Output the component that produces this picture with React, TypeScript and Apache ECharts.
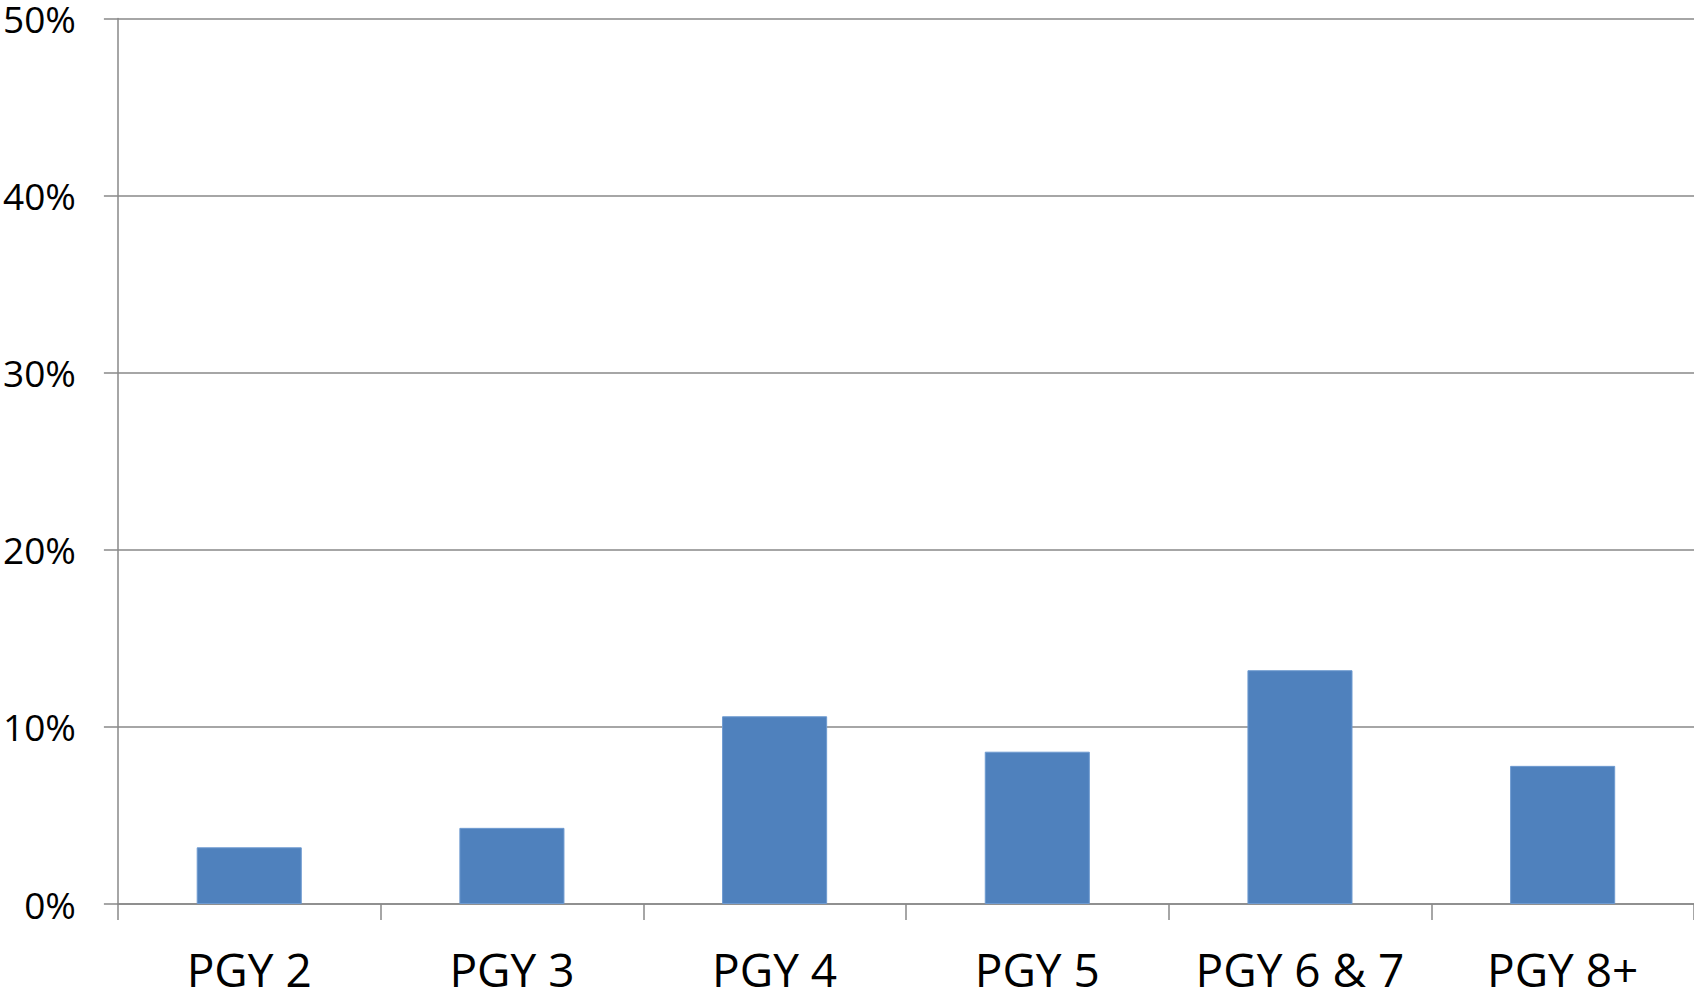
import React, { useEffect, useRef } from "react";
import * as echarts from "echarts";

const categories = ["PGY 2", "PGY 3", "PGY 4", "PGY 5", "PGY 6 & 7", "PGY 8+"];
const values = [3.2, 4.3, 10.6, 8.6, 13.2, 7.8];
const yTicks = [0, 10, 20, 30, 40, 50];

export default function App() {
  const ref = useRef<HTMLDivElement>(null);
  useEffect(() => {
    if (!ref.current) return;
    const chart = echarts.init(ref.current, null, { renderer: "svg" });
    const axisGray = "#888888";
    chart.setOption({
      animation: false,
      backgroundColor: "#ffffff",
      grid: { left: 117, right: -3, top: 16, bottom: 91, containLabel: false },
      xAxis: {
        type: "category",
        data: categories,
        boundaryGap: true,
        axisLine: { show: true, lineStyle: { color: axisGray, width: 1.5 } },
        axisTick: { show: true, alignWithLabel: false, length: 16, lineStyle: { color: axisGray, width: 1.5 } },
        axisLabel: {
          margin: 42,
          color: "#000000",
          fontFamily: "Open Sans",
          fontSize: 46,
          lineHeight: 46,
          interval: 0,
        },
      },
      yAxis: {
        type: "value",
        min: yTicks[0],
        max: yTicks[yTicks.length - 1],
        interval: 10,
        axisLine: { show: true, lineStyle: { color: axisGray, width: 1.5 } },
        axisTick: { show: true, length: 14, lineStyle: { color: axisGray, width: 1.5 } },
        splitLine: { show: true, lineStyle: { color: axisGray, width: 1.5 } },
        axisLabel: {
          margin: 42,
          color: "#000000",
          fontFamily: "Open Sans",
          fontSize: 37,
          formatter: (v: number) => `${v}%`,
        },
      },
      series: [
        {
          type: "bar",
          data: values,
          barWidth: "40%",
          itemStyle: { color: "#4F81BD", borderColor: "#6E9AD0", borderWidth: 1 },
        },
      ],
    });
    return () => chart.dispose();
  }, []);
  return (
    <div
      ref={ref}
      style={{ position: "fixed", left: 0, top: 0, width: 1694, height: 995, background: "#fff" }}
    />
  );
}
